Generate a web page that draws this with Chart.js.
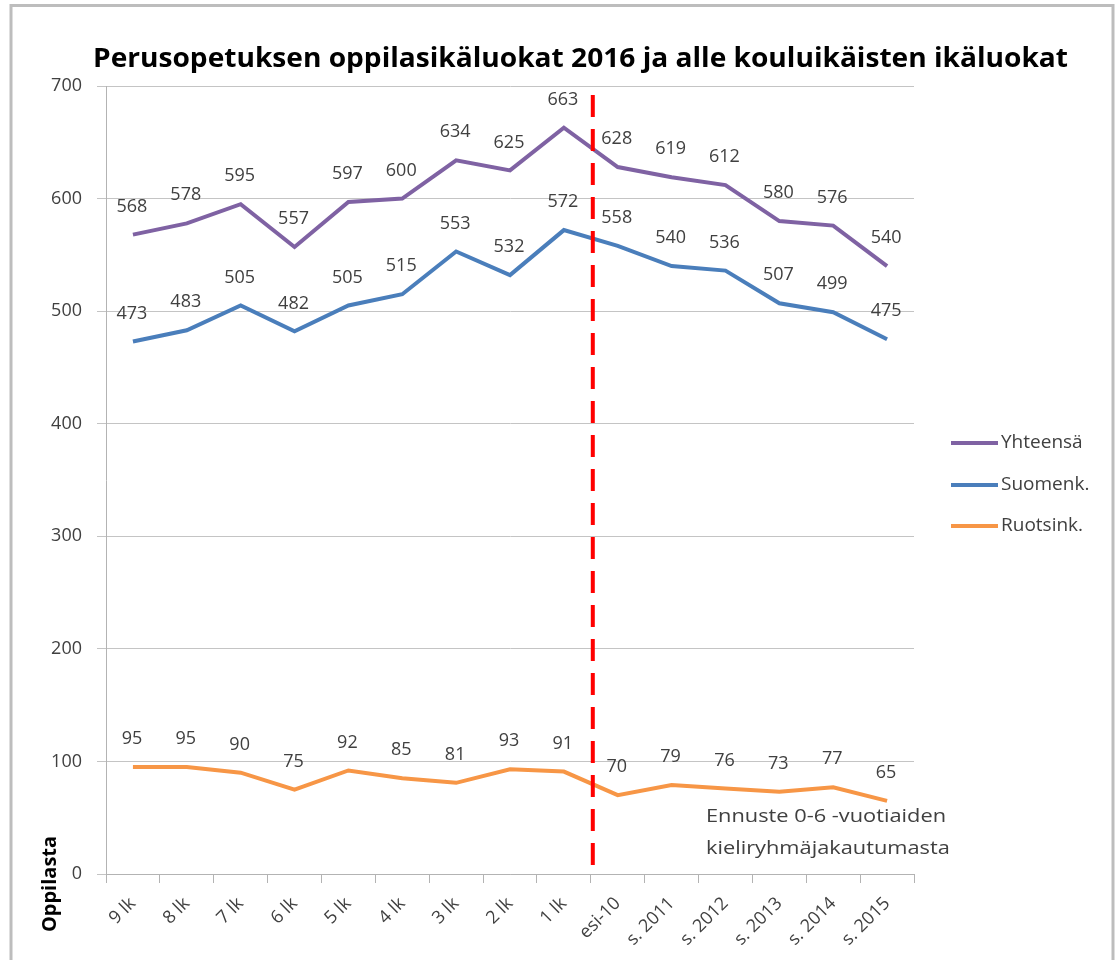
<!DOCTYPE html>
<html>
<head>
<meta charset="utf-8">
<script src="https://cdn.jsdelivr.net/npm/chart.js@4/dist/chart.umd.min.js"></script>
<style>
  html, body { margin: 0; padding: 0; background: #ffffff; }
  #wrap { width: 1117px; height: 960px; position: relative; }
</style>
</head>
<body>
<div id="wrap"><canvas id="c" width="1117" height="960"></canvas></div>
<script>
// ---- Data ----
const categories = ['9 lk', '8 lk', '7 lk', '6 lk', '5 lk', '4 lk', '3 lk', '2 lk', '1 lk',
                    'esi-10', 's. 2011', 's. 2012', 's. 2013', 's. 2014', 's. 2015'];
const seriesNames = ['Yhteensä', 'Suomenk.', 'Ruotsink.'];
const yhteensa = [568, 578, 595, 557, 597, 600, 634, 625, 663, 628, 619, 612, 580, 576, 540];
const suomenk  = [473, 483, 505, 482, 505, 515, 553, 532, 572, 558, 540, 536, 507, 499, 475];
const ruotsink = [95, 95, 90, 75, 92, 85, 81, 93, 91, 70, 79, 76, 73, 77, 65];
const yMin = 0, yMax = 700, yStep = 100;
const titleText = 'Perusopetuksen oppilasikäluokat 2016 ja alle kouluikäisten ikäluokat';
const yTitleText = 'Oppilasta';
const noteLines = ['Ennuste 0-6 -vuotiaiden', 'kieliryhmäjakautumasta'];
const forecastBoundary = 8.5; // between '1 lk' and 'esi-10'

const colors = ['#7F62A3', '#4A7EBB', '#F79646'];
const FONT = '"Open Sans", Lato, sans-serif';
const TXT = '#404040';

// draw text horizontally fitted to a target width
function fitText(ctx, text, x, y, targetW) {
  const w = ctx.measureText(text).width;
  const sx = targetW / w;
  ctx.save();
  ctx.translate(x, y);
  ctx.scale(sx, 1);
  ctx.fillText(text, 0, 0);
  ctx.restore();
}

const decor = {
  id: 'decor',
  beforeDraw(chart) {
    const ctx = chart.ctx;
    ctx.save();
    ctx.fillStyle = '#ffffff';
    ctx.fillRect(0, 0, chart.width, chart.height);
    ctx.strokeStyle = '#bdbdbd';
    ctx.lineWidth = 3;
    ctx.strokeRect(11, 5.5, 1102, 970);
    ctx.restore();
  },
  afterDatasetsDraw(chart) {
    const ctx = chart.ctx;
    const xs = chart.scales.x, ys = chart.scales.y;
    ctx.save();
    // data labels
    ctx.font = '18px ' + FONT;
    ctx.fillStyle = TXT;
    ctx.textAlign = 'center';
    ctx.textBaseline = 'middle';
    chart.data.datasets.forEach((ds, i) => {
      const meta = chart.getDatasetMeta(i);
      meta.data.forEach((pt, j) => {
        ctx.fillText(String(ds.data[j]), pt.x - 1, pt.y - 28);
      });
    });
    // forecast divider
    const bx = xs.getPixelForValue(forecastBoundary) + 2;
    ctx.strokeStyle = '#FF0000';
    ctx.lineWidth = 4;
    ctx.setLineDash([22, 12]);
    ctx.beginPath();
    ctx.moveTo(bx, ys.getPixelForValue(yMax) + 9);
    ctx.lineTo(bx, ys.getPixelForValue(yMin));
    ctx.stroke();
    ctx.setLineDash([]);
    // note
    ctx.font = '18px ' + FONT;
    ctx.fillStyle = TXT;
    ctx.textAlign = 'left';
    ctx.textBaseline = 'middle';
    const nw = ctx.measureText(noteLines[0]).width;
    const nsx = 240 / nw;
    ctx.save();
    ctx.translate(706, 0);
    ctx.scale(nsx, 1);
    ctx.fillText(noteLines[0], 0, 817);
    ctx.fillText(noteLines[1], 0, 849);
    ctx.restore();
    // title
    ctx.font = 'bold 26px ' + FONT;
    ctx.fillStyle = '#000000';
    ctx.textAlign = 'left';
    ctx.textBaseline = 'alphabetic';
    fitText(ctx, titleText, 93, 67, 975);
    // y title
    ctx.save();
    ctx.translate(50, 884);
    ctx.rotate(-Math.PI / 2);
    ctx.font = 'bold 20px ' + FONT;
    ctx.textAlign = 'center';
    ctx.textBaseline = 'middle';
    ctx.fillText(yTitleText, 0, 0);
    ctx.restore();
    // legend
    const legY = [443, 485, 526];
    chart.data.datasets.forEach((ds, i) => {
      ctx.strokeStyle = ds.borderColor;
      ctx.lineWidth = 4;
      ctx.beginPath();
      ctx.moveTo(951, legY[i]);
      ctx.lineTo(998, legY[i]);
      ctx.stroke();
      ctx.font = '19px ' + FONT;
      ctx.fillStyle = TXT;
      ctx.textAlign = 'left';
      ctx.textBaseline = 'middle';
      ctx.fillText(ds.label, 1001, legY[i]);
    });
    ctx.restore();
  }
};

const mk = (label, data, color) => ({
  label, data, borderColor: color, backgroundColor: color,
  borderWidth: 4, pointRadius: 0, pointHoverRadius: 0, tension: 0, fill: false
});

new Chart(document.getElementById('c'), {
  type: 'line',
  data: {
    labels: categories,
    datasets: [
      mk(seriesNames[0], yhteensa, colors[0]),
      mk(seriesNames[1], suomenk, colors[1]),
      mk(seriesNames[2], ruotsink, colors[2])
    ]
  },
  options: {
    responsive: false,
    animation: false,
    layout: { padding: { left: 0, top: 86, right: 1117 - 914, bottom: 0 } },
    plugins: { legend: { display: false }, title: { display: false }, tooltip: { enabled: false } },
    scales: {
      x: {
        type: 'category',
        offset: true,
        afterFit(s) { s.height = 960 - 874; },
        grid: { offset: true, drawOnChartArea: false, drawTicks: true, tickLength: 9, color: '#b3b3b3' },
        border: { color: '#b3b3b3' },
        ticks: { minRotation: 45, maxRotation: 45, autoSkip: false, padding: 10,
                 font: { family: FONT, size: 18 }, color: TXT }
      },
      y: {
        min: yMin, max: yMax,
        afterFit(s) { s.width = 106; },
        grid: { color: '#c4c4c4', tickLength: 9, drawTicks: true },
        border: { color: '#b3b3b3' },
        ticks: { stepSize: yStep, padding: 15, font: { family: FONT, size: 18 }, color: TXT }
      }
    }
  },
  plugins: [decor]
});
</script>
</body>
</html>
